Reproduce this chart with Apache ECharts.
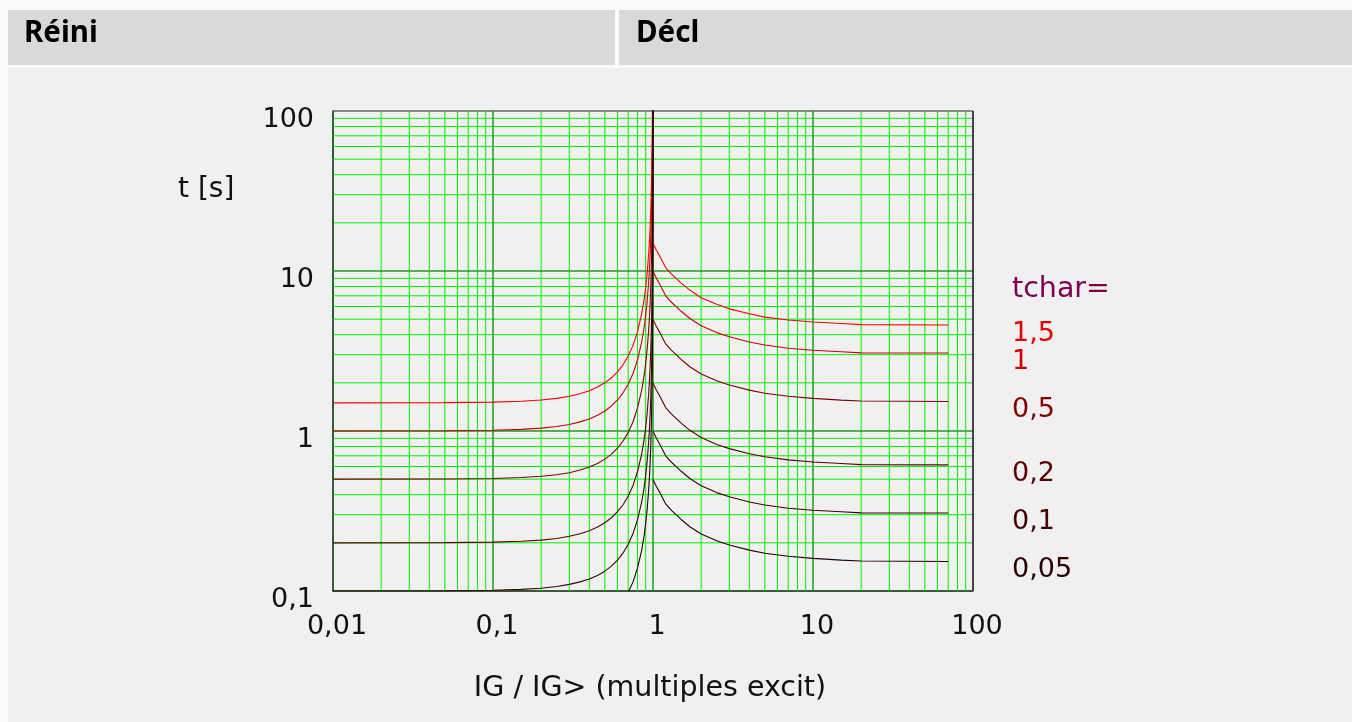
<!DOCTYPE html>
<html><head><meta charset="utf-8">
<script src="https://cdn.jsdelivr.net/npm/echarts@6/dist/echarts.min.js"></script>
<style>html,body{margin:0;padding:0;background:#fafafa}#c{width:1352px;height:722px}</style>
</head><body><div id="c"></div>
<script>
// ---- data ----
const tcharValues = [1.5, 1, 0.5, 0.2, 0.1, 0.05];
const tcharLabels = ['1,5', '1', '0,5', '0,2', '0,1', '0,05'];
const curveColors = ['#ff0000', '#c80000', '#800000', '#5a0000', '#3c0000', '#220000'];
const labelColors = ['#e60000', '#cc0000', '#820000', '#5c0000', '#420000', '#2c0000'];

// reset characteristic (left of 1)
const resetI = [0.01, 0.05, 0.1, 0.15, 0.2, 0.25, 0.3, 0.35, 0.4, 0.45, 0.5, 0.55, 0.6, 0.65, 0.7, 0.75, 0.8, 0.85, 0.88, 0.9, 0.92, 0.94, 0.95, 0.96, 0.97, 0.98, 0.99, 0.995, 0.998, 0.9995, 0.9999];
const reset_1_5 = [1.5, 1.504, 1.515, 1.535, 1.563, 1.6, 1.648, 1.709, 1.786, 1.881, 2.0, 2.151, 2.344, 2.597, 2.941, 3.429, 4.167, 5.41, 6.65, 7.89, 9.77, 12.9, 15.4, 19.1, 25.4, 37.9, 75.4, 150, 375, 1500, 7500];
const reset_1 = [1.0, 1.003, 1.01, 1.023, 1.042, 1.067, 1.099, 1.14, 1.19, 1.254, 1.333, 1.434, 1.563, 1.732, 1.961, 2.286, 2.778, 3.6, 4.43, 5.26, 6.51, 8.59, 10.3, 12.8, 16.9, 25.3, 50.3, 100, 250, 1000, 5000];
const reset_0_5 = [0.5, 0.501, 0.505, 0.512, 0.521, 0.533, 0.549, 0.57, 0.595, 0.627, 0.667, 0.717, 0.781, 0.866, 0.98, 1.143, 1.389, 1.8, 2.22, 2.63, 3.26, 4.3, 5.13, 6.38, 8.46, 12.6, 25.1, 50.1, 125, 500, 2500];
const reset_0_2 = [0.2, 0.2005, 0.202, 0.2046, 0.208, 0.213, 0.22, 0.228, 0.238, 0.251, 0.267, 0.287, 0.313, 0.346, 0.392, 0.457, 0.556, 0.72, 0.887, 1.05, 1.3, 1.72, 2.05, 2.55, 3.38, 5.05, 10.05, 20.05, 50.1, 200, 1000];
const reset_0_1 = [0.1, 0.1003, 0.101, 0.1023, 0.104, 0.1067, 0.11, 0.114, 0.119, 0.125, 0.133, 0.143, 0.156, 0.173, 0.196, 0.229, 0.278, 0.36, 0.443, 0.526, 0.651, 0.859, 1.03, 1.28, 1.69, 2.53, 5.03, 10.0, 25.0, 100, 500];
const reset_0_05 = [0.05, 0.0501, 0.0505, 0.0512, 0.0521, 0.0533, 0.0549, 0.057, 0.0595, 0.0627, 0.0667, 0.0717, 0.0781, 0.0866, 0.098, 0.114, 0.139, 0.18, 0.222, 0.263, 0.326, 0.43, 0.513, 0.638, 0.846, 1.26, 2.51, 5.01, 12.5, 50, 250];

// trip characteristic (right of 1)
const tripI = [1, 1.05, 1.1, 1.2, 1.3, 1.5, 1.7, 2, 2.5, 3, 4, 5, 7, 10, 15, 20, 70];
const trip_1_5 = [14.9, 13.5, 12.4, 10.5, 9.6, 8.4, 7.6, 6.8, 6.2, 5.8, 5.4, 5.15, 4.94, 4.8, 4.7, 4.62, 4.6];
const trip_1 = [9.95, 9.0, 8.3, 7.0, 6.4, 5.6, 5.05, 4.55, 4.12, 3.88, 3.6, 3.45, 3.29, 3.2, 3.13, 3.08, 3.07];
const trip_0_5 = [4.97, 4.5, 4.15, 3.5, 3.2, 2.8, 2.52, 2.27, 2.06, 1.94, 1.8, 1.72, 1.65, 1.6, 1.56, 1.54, 1.53];
const trip_0_2 = [1.99, 1.8, 1.66, 1.4, 1.28, 1.12, 1.01, 0.91, 0.824, 0.776, 0.72, 0.69, 0.66, 0.64, 0.626, 0.616, 0.614];
const trip_0_1 = [0.995, 0.9, 0.83, 0.7, 0.64, 0.56, 0.505, 0.455, 0.412, 0.388, 0.36, 0.345, 0.329, 0.32, 0.313, 0.308, 0.307];
const trip_0_05 = [0.497, 0.45, 0.415, 0.35, 0.32, 0.28, 0.252, 0.227, 0.206, 0.194, 0.18, 0.172, 0.165, 0.16, 0.156, 0.154, 0.153];

const resetSets = [reset_1_5, reset_1, reset_0_5, reset_0_2, reset_0_1, reset_0_05];
const tripSets = [trip_1_5, trip_1, trip_0_5, trip_0_2, trip_0_1, trip_0_05];

// axes
const xMajor = [0.01, 0.1, 1, 10, 100];
const xTickLabels = ['0,01', '0,1', '1', '10', '100'];
const yMajor = [0.1, 1, 10, 100];
const yTickLabels = ['0,1', '1', '10', '100'];
const minorSteps = [2, 3, 4, 5, 6, 7, 8, 9];
const xTitle = 'IG / IG> (multiples excit)';
const yTitle = 't [s]';
const headerLeft = 'Réini';
const headerRight = 'Décl';
const legendTitle = 'tchar=';

// ---- chart ----
const FONT = 'DejaVu Sans';
const FS = 27;
const chart = echarts.init(document.getElementById('c'), null, {renderer: 'canvas', width: 1352, height: 722});

function labelFor(majors, labels) {
  return function (v) {
    const i = majors.findIndex(m => Math.abs(Math.log10(m) - Math.log10(v)) < 1e-6);
    return i >= 0 ? labels[i] : '';
  };
}

const xMin = xMajor[0], xMax = xMajor[xMajor.length - 1];
const yMin = yMajor[0], yMax = yMajor[yMajor.length - 1];
const minorLines = [], majorLines = [];
xMajor.slice(0, -1).forEach(d => minorSteps.forEach(k => { const v = d * k; minorLines.push([v, yMin], [v, yMax], [v, '-']); }));
yMajor.slice(0, -1).forEach(d => minorSteps.forEach(k => { const v = d * k; minorLines.push([xMin, v], [xMax, v], ['-', v]); }));
xMajor.slice(1, -1).forEach(v => majorLines.push([v, yMin], [v, yMax], [v, '-']));
yMajor.slice(1, -1).forEach(v => majorLines.push([xMin, v], [xMax, v], ['-', v]));

const series = [
  {type: 'line', data: minorLines, showSymbol: false, symbol: 'none', silent: true, z: 1, connectNulls: false,
   lineStyle: {color: '#00ee00', width: 1}},
  {type: 'line', data: majorLines, showSymbol: false, symbol: 'none', silent: true, z: 2, connectNulls: false,
   lineStyle: {color: '#1f9a1f', width: 1.5}},
  {type: 'line', data: [[xMax, yMin], [xMax, yMax]], showSymbol: false, symbol: 'none', silent: true, z: 2,
   lineStyle: {color: '#444', width: 2}}
];
tcharValues.forEach((tc, i) => {
  series.push({
    type: 'line', z: 3, clip: true, showSymbol: false, symbol: 'none', smooth: false, silent: true,
    lineStyle: {color: curveColors[i], width: 1.1},
    data: resetI.map((x, j) => [x, resetSets[i][j]])
  });
  series.push({
    type: 'line', z: 3, clip: true, showSymbol: false, symbol: 'none', smooth: false, silent: true,
    lineStyle: {color: curveColors[i], width: 1.1},
    data: tripI.map((x, j) => [x, tripSets[i][j]])
  });
});

const baseGraphic = [
  {type: 'rect', z: -10, shape: {x: 8, y: 10, width: 607, height: 55}, style: {fill: '#d9d9d9'}},
  {type: 'rect', z: -10, shape: {x: 619, y: 10, width: 733, height: 55}, style: {fill: '#d9d9d9'}},
  {type: 'rect', z: -10, shape: {x: 8, y: 68, width: 1344, height: 654}, style: {fill: '#f0f0f0'}},
  {type: 'text', x: 24, y: 34, style: {text: headerLeft, fontSize: 29.5, fontWeight: 'bold', fontFamily: 'Noto Sans', fill: '#000', verticalAlign: 'middle', align: 'left'}},
  {type: 'text', x: 636, y: 34, style: {text: headerRight, fontSize: 29.5, fontWeight: 'bold', fontFamily: 'Noto Sans', fill: '#000', verticalAlign: 'middle', align: 'left'}},
  {type: 'text', x: 178, y: 190, style: {text: yTitle, fontSize: 28, fontFamily: FONT, fill: '#111', verticalAlign: 'middle', align: 'left'}},
  {type: 'text', x: 650, y: 689, style: {text: xTitle, fontSize: 28.5, fontFamily: FONT, fill: '#111', verticalAlign: 'middle', align: 'center'}},
  {type: 'text', x: 1012, y: 290, style: {text: legendTitle, fontSize: 28.5, fontFamily: FONT, fill: '#800050', verticalAlign: 'middle', align: 'left'}}
];

chart.setOption({
  backgroundColor: '#fafafa',
  animation: false,
  grid: {left: 333, top: 111, width: 640, height: 480, show: true, borderColor: '#222', borderWidth: 1, backgroundColor: 'transparent'},
  xAxis: {
    type: 'log', logBase: 10, min: xMin, max: xMax,
    axisLine: {show: true, onZero: false, lineStyle: {color: '#1d4d1d', width: 1.5}},
    axisTick: {show: false}, splitLine: {show: false}, minorSplitLine: {show: false},
    axisLabel: {formatter: labelFor(xMajor, xTickLabels), fontFamily: FONT, fontSize: FS, color: '#111', margin: 22, padding: [0, 0, 0, 8]}
  },
  yAxis: {
    type: 'log', logBase: 10, min: yMin, max: yMax,
    axisLine: {show: true, onZero: false, lineStyle: {color: '#1d4d1d', width: 1.5}},
    axisTick: {show: false}, splitLine: {show: false}, minorSplitLine: {show: false},
    axisLabel: {formatter: labelFor(yMajor, yTickLabels), fontFamily: FONT, fontSize: FS, color: '#111', margin: 19, verticalAlign: 'top', lineHeight: 18}
  },
  series: series,
  graphic: baseGraphic
});

// legend labels next to the curve ends
const extra = tcharValues.map((tc, i) => {
  const last = tripSets[i][tripSets[i].length - 1];
  const p = chart.convertToPixel({xAxisIndex: 0, yAxisIndex: 0}, [tripI[tripI.length - 1], last]);
  return {type: 'text', x: 1012, y: p[1] + 9, style: {text: tcharLabels[i], fontSize: FS, fontFamily: FONT, fill: labelColors[i], verticalAlign: 'middle', align: 'left'}};
});
chart.setOption({graphic: baseGraphic.concat(extra)});
</script>
</body></html>
